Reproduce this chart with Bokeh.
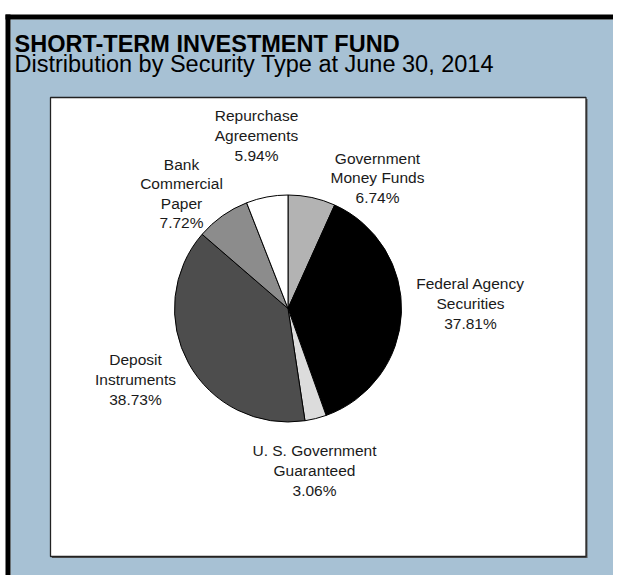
import numpy as np
from bokeh.plotting import figure
from bokeh.models import Range1d, ColumnDataSource
from bokeh.core.properties import value
from bokeh.embed import file_html
from bokeh.resources import INLINE

# ---- data ----
categories = ["Government\nMoney Funds", "Federal Agency\nSecurities", "U. S. Government\nGuaranteed",
              "Deposit\nInstruments", "Bank\nCommercial\nPaper", "Repurchase\nAgreements"]
percents = [6.74, 37.81, 3.06, 38.73, 7.72, 5.94]
slice_colors = ["#b3b3b3", "#000000", "#dcdcdc", "#4d4d4d", "#8c8c8c", "#ffffff"]
title_text = "SHORT-TERM INVESTMENT FUND"
subtitle_text = "Distribution by Security Type at June 30, 2014"

# label block centres (page pixel coordinates)
label_x = [377, 470, 314, 135, 181, 256]
label_y = [177.5, 303, 470, 379, 193, 135]

W, H = 613, 583
FONT = "Liberation Sans"

def Y(y):
    return H - y

p = figure(width=613, height=575, output_backend="svg", toolbar_location=None,
           x_range=Range1d(0, W), y_range=Range1d(8, H),
           x_axis_location=None, y_axis_location=None, min_border=0,
           background_fill_color="white", border_fill_color="white",
           outline_line_color=None, tools="")
p.grid.visible = False

# blue panel
p.quad(left=[10], right=[W], top=[Y(19)], bottom=[Y(H)], fill_color="#a7c1d4", line_color=None)
# black frame (top and left)
p.quad(left=[5], right=[W], top=[Y(14)], bottom=[Y(19)], fill_color="black", line_color=None)
p.quad(left=[5], right=[10], top=[Y(14)], bottom=[Y(H)], fill_color="black", line_color=None)

# inner white box with slight shadow
p.quad(left=[51.5], right=[587], top=[Y(98.5)], bottom=[Y(557.5)], fill_color="#555555", line_color=None)
p.quad(left=[50], right=[585.5], top=[Y(97)], bottom=[Y(556)], fill_color="white",
       line_color="#222222", line_width=1.3)

# titles
p.text(x=[14], y=[Y(43)], text=[title_text], text_font=value(FONT), text_font_size="23.5px",
       text_font_style="bold", text_color="black", text_align="left", text_baseline="middle")
p.text(x=[14], y=[Y(63)], text=[subtitle_text], text_font=value(FONT), text_font_size="23.5px",
       text_color="black", text_align="left", text_baseline="middle")

# pie
fr = np.array(percents) / sum(percents)
cum = np.concatenate([[0], np.cumsum(fr)])
start = np.pi / 2 - cum[:-1] * 2 * np.pi
end = np.pi / 2 - cum[1:] * 2 * np.pi
src = ColumnDataSource(dict(start=start, end=end, color=slice_colors))
cx, cy, r = 287.5, Y(308), 113.5
p.wedge(x=cx, y=cy, radius=r, start_angle="start", end_angle="end", direction="clock",
        fill_color="color", line_color="black", line_width=1, source=src)

# labels
labels = [f"{c}\n{v:.2f}%" for c, v in zip(categories, percents)]
lsrc = ColumnDataSource(dict(x=label_x, y=[Y(v) for v in label_y], text=labels))
p.text(x="x", y="y", text="text", source=lsrc, text_font=value(FONT), text_font_size="15.5px",
       text_color="#1a1a1a", text_align="center", text_baseline="middle", text_line_height=1.15)

open("out.html", "w").write(file_html(p, INLINE))
